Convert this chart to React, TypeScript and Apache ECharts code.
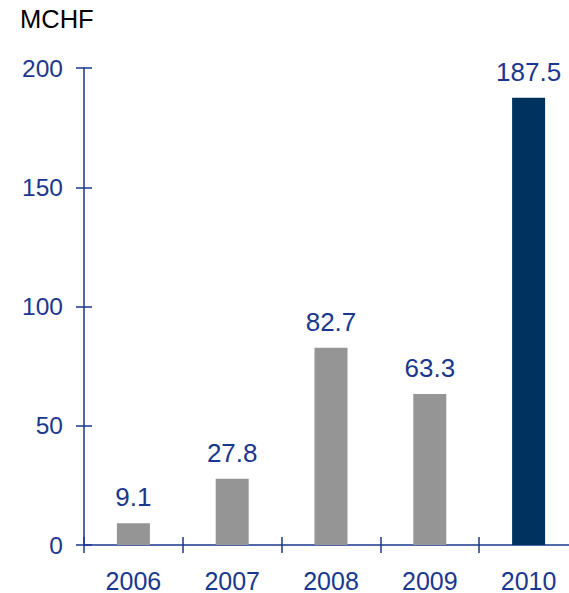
import React, { useEffect, useRef } from "react";
import * as echarts from "echarts";

const categories = ["2006", "2007", "2008", "2009", "2010"];
const values = [9.1, 27.8, 82.7, 63.3, 187.5];
const highlightCategory = "2010";
const yTicks = { min: 0, max: 200, interval: 50 };
const unitLabel = "MCHF";

const BLUE = "#1a378e";
const GRAY = "#959595";
const NAVY = "#00325f";
const FONT = "Liberation Sans, Arial, sans-serif";

export default function App() {
  const ref = useRef<HTMLDivElement>(null);
  useEffect(() => {
    if (!ref.current) return;
    const chart = echarts.init(ref.current, undefined, { renderer: "svg" });
    const axisLine = { show: true, lineStyle: { color: BLUE, width: 1.5 } };
    chart.setOption({
      animation: false,
      graphic: [
        {
          type: "text",
          left: 20,
          top: 6,
          style: { text: unitLabel, fill: "#000", font: `25.5px ${FONT}` },
        },
      ],
      grid: { left: 84, top: 68, bottom: 48, right: 0, containLabel: false },
      xAxis: [
        {
          type: "category",
          data: categories,
          position: "bottom",
          axisLine,
          axisTick: { show: true, length: 8, inside: false, lineStyle: { color: BLUE, width: 1.5 } },
          axisLabel: { color: BLUE, fontSize: 25, fontFamily: FONT, margin: 23 },
          splitLine: { show: false },
        },
        {
          type: "category",
          data: categories,
          position: "bottom",
          axisLine: { show: false },
          axisTick: { show: true, length: 8, inside: true, lineStyle: { color: BLUE, width: 1.5 } },
          axisLabel: { show: false },
          splitLine: { show: false },
        },
      ],
      yAxis: [
        {
          type: "value",
          min: yTicks.min,
          max: yTicks.max,
          interval: yTicks.interval,
          position: "left",
          axisLine,
          axisTick: { show: true, length: 8, inside: false, lineStyle: { color: BLUE, width: 1.5 } },
          axisLabel: { color: BLUE, fontSize: 24.5, fontFamily: FONT, margin: 21 },
          splitLine: { show: false },
        },
        {
          type: "value",
          min: yTicks.min,
          max: yTicks.max,
          interval: yTicks.interval,
          position: "left",
          axisLine: { show: false },
          axisTick: { show: true, length: 8, inside: true, lineStyle: { color: BLUE, width: 1.5 } },
          axisLabel: { show: false },
          splitLine: { show: false },
        },
      ],
      series: [
        {
          type: "bar",
          xAxisIndex: 0,
          yAxisIndex: 0,
          barWidth: 33,
          data: values.map((v, i) => ({
            value: v,
            itemStyle: { color: categories[i] === highlightCategory ? NAVY : GRAY },
          })),
          label: {
            show: true,
            position: "top",
            distance: 13,
            color: BLUE,
            fontSize: 26,
            fontFamily: FONT,
            formatter: (p: any) => p.value.toFixed(1),
          },
        },
      ],
    });
    return () => chart.dispose();
  }, []);
  return (
    <div style={{ position: "absolute", left: 0, top: 0, width: 569, height: 593, overflow: "hidden", background: "#fff" }}>
      <div ref={ref} style={{ width: 578, height: 593 }} />
    </div>
  );
}
